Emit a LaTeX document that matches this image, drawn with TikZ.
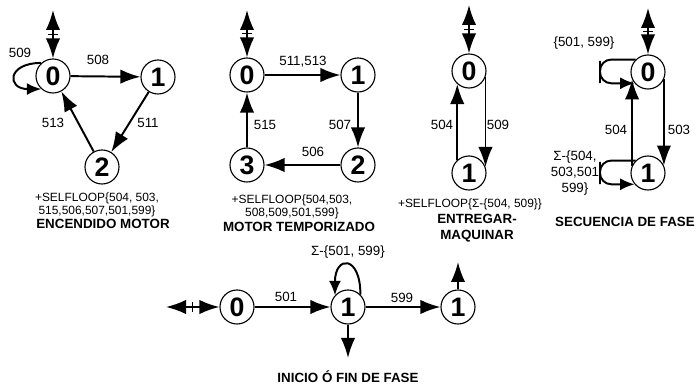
\documentclass[tikz,border=0pt]{standalone}
\usepackage{fontspec}
\setmainfont{Liberation Sans}
\usetikzlibrary{arrows.meta,calc}

\begin{document}
\begin{tikzpicture}[
    x=0.025cm, y=0.025cm,
    >=Latex,
    state/.style={circle, draw, line width=0.8pt, minimum size=0.85cm,
      inner sep=0pt, font=\fontsize{19}{19}\selectfont\bfseries},
    trans/.style={-{Latex[length=5mm,width=3.6mm]}, line width=1.4pt},
    selfloop/.style={-{Latex[length=3.6mm,width=3mm]}, line width=1.4pt},
    initmark/.style={{Latex[length=5mm,width=3.6mm]}-{Latex[length=5mm,width=3.6mm]},
      line width=1.4pt},
    tick/.style={line width=1pt},
    lbl/.style={font=\fontsize{9.5}{11.3}\selectfont, align=center},
    note/.style={font=\fontsize{8.5}{9.2}\selectfont, align=center},
    heading/.style={font=\fontsize{9.5}{11.3}\selectfont\bfseries, align=center}
  ]
  \useasboundingbox (0,0) rectangle (700,387);

  % Encendido motor
  \node[state] (a0) at (53,311) {0};
  \node[state] (a1) at (158,310) {1};
  \node[state] (a2) at (102,220) {2};
  \coordinate (a0i) at (53,377);
  \draw[initmark] (a0i) -- (a0);
  \draw[tick] ($(a0i)!0.5!(a0.north)$) +(-5,0) -- +(5,0);
  \draw[selfloop] (a0.132) to[out=180, in=180, looseness=3.4] (a0.228);
  \draw[trans] (a0) -- (a1);
  \draw[trans] (a1) -- (a2);
  \draw[trans] (a2) -- (a0);
  \node[lbl] (l509) at (20,334) {509};
  \node[lbl] (l508) at (98,327) {508};
  \node[lbl] (l511) at (148,264) {511};
  \node[lbl] (l513) at (53,264) {513};
  \node[note] (a-self) at (97,182.5) {+SELFLOOP\{504, 503,\\515,506,507,501,599\}};
  \node[heading] (a-name) at (103,163) {ENCENDIDO MOTOR};

  % Motor temporizado
  \node[state] (b0) at (247,312) {0};
  \node[state] (b1) at (358,312) {1};
  \node[state] (b2) at (358,222) {2};
  \node[state] (b3) at (247,222) {3};
  \coordinate (b0i) at (247,377);
  \draw[initmark] (b0i) -- (b0);
  \draw[tick] ($(b0i)!0.5!(b0.north)$) +(-5,0) -- +(5,0);
  \draw[trans] (b0) -- (b1);
  \draw[trans] (b1) -- (b2);
  \draw[trans] (b2) -- (b3);
  \draw[trans] (b3) -- (b0);
  \node[lbl] (l511b) at (303,325) {511,513};
  \node[lbl] (l507) at (340,262) {507};
  \node[lbl] (l515) at (265,262) {515};
  \node[lbl] (l506) at (313,235) {506};
  \node[note] (b-self) at (292,180) {+SELFLOOP\{504,503,\\508,509,501,599\}};
  \node[heading] (b-name) at (299,160) {MOTOR TEMPORIZADO};

  % Entregar-maquinar
  \node[state] (c0) at (469,316) {0};
  \node[state] (c1) at (469,214) {1};
  \coordinate (c0i) at (469,382);
  \draw[initmark] (c0i) -- (c0);
  \draw[tick] ($(c0i)!0.5!(c0.north)$) +(-5,0) -- +(5,0);
  \draw[trans] (c1.132) -- (c0.228);
  \draw[trans] (c0.-20) -- (c1.20);
  \node[lbl] (l504c) at (442,262) {504};
  \node[lbl] (l509c) at (498,262) {509};
  \node[note] (c-self) at (470,183) {+SELFLOOP\{Σ-\{504, 509\}\}};
  \node[heading] (c-name) at (477,159) {ENTREGAR-\\MAQUINAR};

  % Secuencia de fase
  \node[state] (d0) at (648,315) {0};
  \node[state] (d1) at (648,214) {1};
  \coordinate (d0i) at (648,379);
  \draw[initmark] (d0i) -- (d0);
  \draw[tick] ($(d0i)!0.5!(d0.north)$) +(-5,0) -- +(5,0);
  \draw[selfloop, rounded corners=0.28cm] (d0.135) -| ($(d0)+(-48,0)$) |- (d0.220);
  \draw[selfloop, rounded corners=0.28cm] (d1.135) -| ($(d1)+(-48,0)$) |- (d1.220);
  \draw[trans] (d1.155) -- (d0.205);
  \draw[trans] (d0.-25) -- (d1.25);
  \node[lbl] (l501d) at (584,344) {\{501, 599\}};
  \node[lbl] (l504d) at (616,257) {504};
  \node[lbl] (l503d) at (679,257) {503};
  \node[lbl] (lsigd) at (575,214) {Σ-\{504,\\503,501\\599\}};
  \node[heading] (d-name) at (625,165) {SECUENCIA DE FASE};

  % Inicio o fin de fase
  \node[state] (e0) at (237,80) {0};
  \node[state] (e1) at (348,80) {1};
  \node[state] (e2) at (458,80) {1};
  \coordinate (e0i) at (166,80);
  \draw[initmark] (e0i) -- (e0);
  \draw[tick] ($(e0i)!0.5!(e0.west)$) +(0,-5) -- +(0,5);
  \draw[trans] (e0) -- (e1);
  \draw[trans] (e1) -- (e2);
  \draw[selfloop] (e1.45) to[out=90, in=90, looseness=4] (e1.138);
  \coordinate (e1o) at (348,29);
  \draw[trans] (e1) -- (e1o);
  \coordinate (e2o) at (458,125);
  \draw[trans] (e2) -- (e2o);
  \node[lbl] (l501e) at (286,90) {501};
  \node[lbl] (l599e) at (402,89) {599};
  \node[lbl] (lsige) at (348,135) {Σ-\{501, 599\}};
  \node[heading] (e-name) at (348,10) {INICIO Ó FIN DE FASE};
\end{tikzpicture}
\end{document}
